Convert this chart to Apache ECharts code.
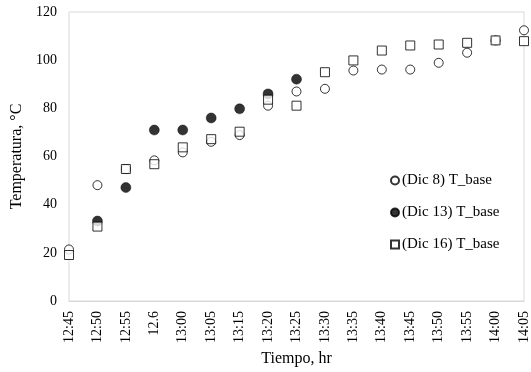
<!DOCTYPE html>
<html>
<head>
<meta charset="utf-8">
<script src="https://cdn.jsdelivr.net/npm/echarts@6/dist/echarts.min.js"></script>
<style>html,body{margin:0;padding:0;background:#fff;}#c{width:531px;height:372px;}</style>
</head>
<body>
<div id="c"></div>
<script>
const categories = ['12:45','12:50','12:55','12.6','13:00','13:05','13:15','13:20','13:25','13:30','13:35','13:40','13:45','13:50','13:55','14:00','14:05'];
const dic8  = [21.4, 48.1, 54.8, 58.4, 61.7, 66.1, 68.9, 81.1, 87.0, 88.1, 95.7, 96.1, 96.1, 98.9, 103.1, 108.2, 112.4];
const dic13 = [null, 33.2, 47.1, 71.0, 71.0, 76.0, 79.8, 86.0, 92.1, null, null, null, null, null, null, null, null];
const dic16 = [19.1, 30.9, 54.8, 56.8, 63.8, 67.2, 70.3, 83.6, 81.1, 95.0, 99.9, 104.0, 106.1, 106.5, 107.2, 108.2, 107.9];
const seriesNames = ['(Dic 8) T_base', '(Dic 13) T_base', '(Dic 16) T_base'];
const yTicks = {min: 0, max: 120, interval: 20};

const font = 'Liberation Serif';
const chart = echarts.init(document.getElementById('c'), null, {renderer: 'canvas'});
chart.setOption({
  animation: false,
  backgroundColor: '#fff',
  textStyle: {fontFamily: font},
  grid: {left: 69, right: 3, top: 12, bottom: 71, show: true, borderColor: '#d9d9d9', borderWidth: 1, containLabel: false},
  legend: {
    orient: 'vertical', left: 385, top: 168,
    itemWidth: 8, itemHeight: 8, itemGap: 17,
    textStyle: {fontFamily: font, fontSize: 15, color: '#000', padding: [0, 0, 0, -2]},
    data: [
      {name: seriesNames[0], icon: 'circle'},
      {name: seriesNames[1], icon: 'circle'},
      {name: seriesNames[2], icon: 'rect'}
    ]
  },
  xAxis: {
    type: 'category', data: categories, boundaryGap: false,
    name: 'Tiempo, hr', nameLocation: 'middle', nameGap: 50,
    nameTextStyle: {fontFamily: font, fontSize: 16, color: '#000'},
    axisLine: {show: true, lineStyle: {color: '#d9d9d9'}},
    axisTick: {show: false},
    axisLabel: {rotate: 90, interval: 0, margin: 10, fontFamily: font, fontSize: 14, color: '#000'},
    splitLine: {show: false}
  },
  yAxis: {
    type: 'value', min: yTicks.min, max: yTicks.max, interval: yTicks.interval,
    name: 'Temperatura, °C', nameLocation: 'middle', nameGap: 34,
    nameTextStyle: {fontFamily: font, fontSize: 16, color: '#000'},
    axisLine: {show: false}, axisTick: {show: false},
    axisLabel: {margin: 12, fontFamily: font, fontSize: 14, color: '#000'},
    splitLine: {show: false}
  },
  series: [
    {name: seriesNames[0], type: 'scatter', data: dic8, symbol: 'circle', symbolSize: 9,
     itemStyle: {color: '#fff', borderColor: '#000', borderWidth: 1}},
    {name: seriesNames[1], type: 'scatter', data: dic13, symbol: 'circle', symbolSize: 10,
     itemStyle: {color: '#000', borderColor: '#000', borderWidth: 0.5}},
    {name: seriesNames[2], type: 'scatter', data: dic16, symbol: 'rect', symbolSize: 9,
     itemStyle: {color: '#fff', borderColor: '#000', borderWidth: 1}}
  ]
});
</script>
</body>
</html>
